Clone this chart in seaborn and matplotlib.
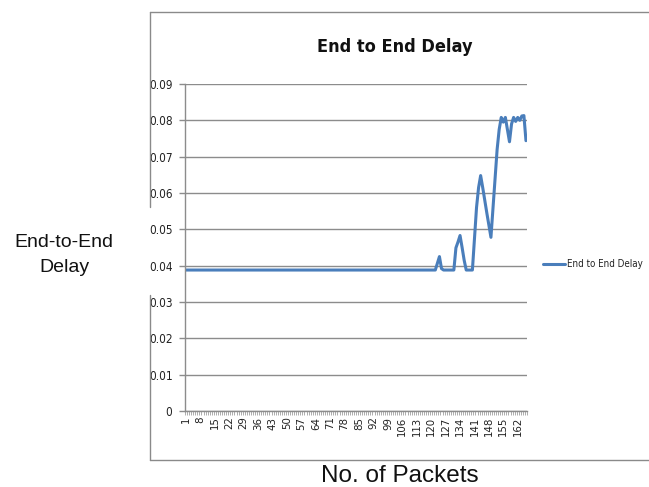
import numpy as np
import pandas as pd
import seaborn as sns
import matplotlib
matplotlib.use("Agg")
import matplotlib.pyplot as plt
import matplotlib.font_manager as fm
from matplotlib.lines import Line2D
from matplotlib.ticker import FixedLocator, NullFormatter

# ---- data -------------------------------------------------------------
packets = list(range(1, 167))
baseline_delay = [0.0388] * 121                      # packets 1..121
tail_delay = [
    0.0388, 0.0407, 0.0425, 0.0392, 0.0388, 0.0388,  # 122..127
    0.0388, 0.0388, 0.0388, 0.0388, 0.0449, 0.0465,  # 128..133
    0.0483, 0.0450, 0.0415, 0.0388, 0.0388, 0.0388,  # 134..139
    0.0388, 0.0475, 0.0560, 0.0615, 0.0648, 0.0615,  # 140..145
    0.0580, 0.0545, 0.0512, 0.0478, 0.0560, 0.0640,  # 146..151
    0.0720, 0.0775, 0.0808, 0.0795, 0.0808, 0.0775,  # 152..157
    0.0741, 0.0790, 0.0808, 0.0797, 0.0808, 0.0800,  # 158..163
    0.0812, 0.0813, 0.0744,                          # 164..166
]
delay = baseline_delay + tail_delay
y_ticks = [0, 0.01, 0.02, 0.03, 0.04, 0.05, 0.06, 0.07, 0.08, 0.09]
y_tick_labels = ["0", "0.01", "0.02", "0.03", "0.04", "0.05", "0.06", "0.07", "0.08", "0.09"]
x_tick_values = list(range(1, 167, 7))

series_name = "End to End Delay"
df = pd.DataFrame({"packet": packets, "delay": delay})


# ---- fonts: prefer a condensed sans for the chart texts ---------------
def pick_font(bold):
    want = 700 if bold else 400
    best = None
    for f in fm.fontManager.ttflist:
        name = f.name
        narrowish = ("Narrow" in name or "Condensed" in name
                     or f.stretch in ("condensed", "semi-condensed"))
        if not narrowish or f.style != "normal":
            continue
        w = f.weight if isinstance(f.weight, int) else (700 if "bold" in str(f.weight) else 400)
        score = abs(w - want)
        if best is None or score < best[0]:
            best = (score, f.fname)
    if best is not None and best[0] < 200:
        return fm.FontProperties(fname=best[1]), 1.0
    fam = "Lato" if "Lato" in {f.name for f in fm.fontManager.ttflist} else "DejaVu Sans"
    return fm.FontProperties(family=fam, weight="bold" if bold else "normal"), 0.9


narrow_reg, reg_scale = pick_font(False)
narrow_bold, bold_scale = pick_font(True)


def fp(base, size):
    p = base.copy()
    p.set_size(size)
    return p


# ---- style ------------------------------------------------------------
sns.set_style("white")
plain = ["Liberation Sans", "DejaVu Sans"]
plt.rcParams["font.family"] = plain

W, H = 649, 487
fig = plt.figure(figsize=(W / 100, H / 100), dpi=100)
ax = fig.add_axes([185 / W, 1 - 411 / H, (527 - 185) / W, (411 - 84) / H])

line_color = "#4a7ebb"
grid_color = "#8c8c8c"

sns.lineplot(data=df, x="packet", y="delay", ax=ax, color=line_color,
             linewidth=2.2, label=series_name)

ax.set_xlim(0.5, 166.5)
ax.set_ylim(0, 0.09)

# horizontal gridlines
ax.set_yticks(y_ticks)
ax.set_yticklabels(y_tick_labels, fontproperties=fp(narrow_reg, 8.5 * reg_scale),
                   color="#222222")
ax.yaxis.grid(True, color=grid_color, linewidth=1.0)
ax.xaxis.grid(False)
ax.set_axisbelow(True)
ax.tick_params(axis="y", length=4, width=1, color=grid_color, pad=5, left=True)

# category labels every 7 packets, a short tick at each category boundary
ax.xaxis.set_major_locator(FixedLocator(x_tick_values))
ax.set_xticklabels([str(v) for v in x_tick_values], rotation=90,
                   fontproperties=fp(narrow_reg, 8.2 * reg_scale), color="#222222")
ax.tick_params(axis="x", which="major", length=0, pad=4, bottom=True)
ax.xaxis.set_minor_locator(FixedLocator(np.arange(0.5, 167, 1.0)))
ax.xaxis.set_minor_formatter(NullFormatter())
ax.tick_params(axis="x", which="minor", length=3, width=0.6,
               color="#a0a0a0", bottom=True)

for side in ("top", "right"):
    ax.spines[side].set_visible(False)
for side in ("left", "bottom"):
    ax.spines[side].set_color(grid_color)
    ax.spines[side].set_linewidth(1.0)

ax.set_xlabel("")
ax.set_ylabel("")

# legend to the right of the plot area
leg = ax.legend(loc="center left", bbox_to_anchor=(543 / W, 1 - 264 / H),
                bbox_transform=fig.transFigure, frameon=False,
                prop=fp(narrow_reg, 7.0 * reg_scale), handlelength=2.3,
                handletextpad=0.15, borderpad=0, borderaxespad=0)
for t in leg.get_texts():
    t.set_color("#222222")

# chart title
fig.text(395 / W, 1 - 52 / H, "End to End Delay", ha="center", va="baseline",
         fontproperties=fp(narrow_bold, 13 * bold_scale), color="#111111")

# chart frame (left edge interrupted by the axis caption)
frame_kw = dict(color="#8a8a8a", linewidth=1.0, transform=fig.transFigure)
fig.add_artist(Line2D([150 / W, 1.0], [1 - 12 / H, 1 - 12 / H], **frame_kw))
fig.add_artist(Line2D([150 / W, 1.0], [1 - 460 / H, 1 - 460 / H], **frame_kw))
fig.add_artist(Line2D([150 / W, 150 / W], [1 - 12 / H, 1 - 207 / H], **frame_kw))
fig.add_artist(Line2D([150 / W, 150 / W], [1 - 295 / H, 1 - 460 / H], **frame_kw))

# axis captions
fig.text(64 / W, 1 - 255 / H, "End-to-End\nDelay", ha="center", va="center",
         fontsize=14, family=plain, linespacing=1.65, color="#111111")
fig.text(400 / W, 1 - 482 / H, "No. of Packets", ha="center", va="baseline",
         fontsize=17.5, family=plain, color="#111111")

fig.savefig("out.png", dpi=100)
